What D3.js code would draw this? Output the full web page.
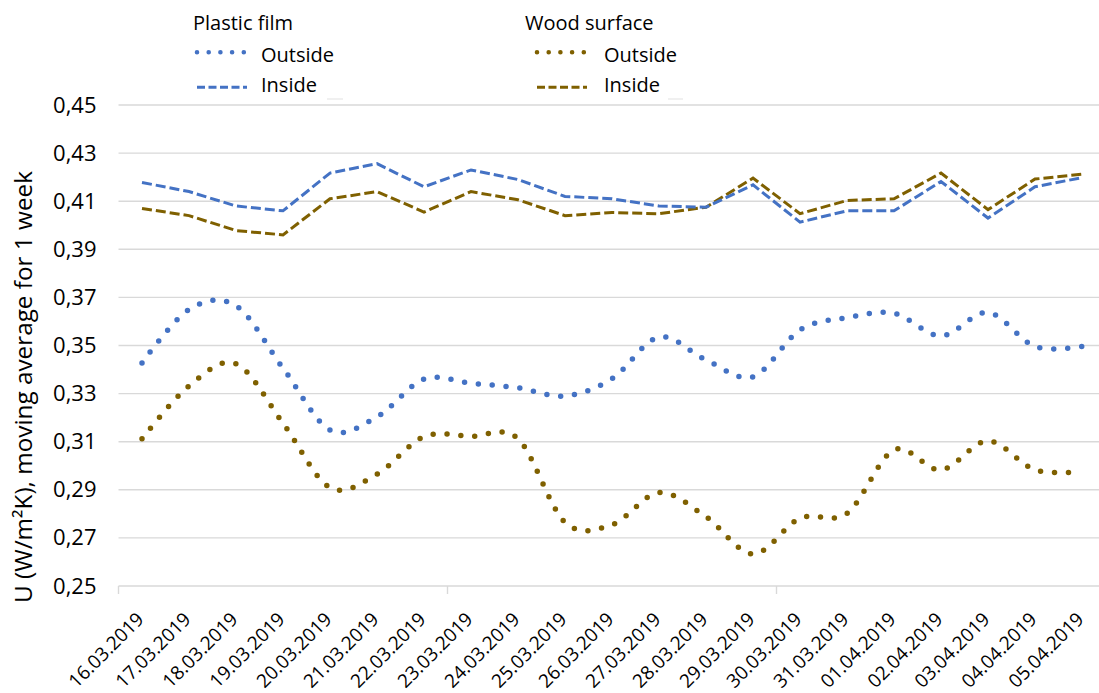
<!DOCTYPE html>
<html><head><meta charset="utf-8">
<script src="https://cdn.jsdelivr.net/npm/d3@7"></script>
<style>
body{margin:0;background:#fff}
svg{display:block}
text{font-family:'Open Sans',sans-serif;fill:#000}
</style>
</head><body>
<svg id="chart" width="1099" height="693"></svg>
<script>
const dates = ["16.03.2019","17.03.2019","18.03.2019","19.03.2019","20.03.2019","21.03.2019","22.03.2019",
  "23.03.2019","24.03.2019","25.03.2019","26.03.2019","27.03.2019","28.03.2019","29.03.2019",
  "30.03.2019","31.03.2019","01.04.2019","02.04.2019","03.04.2019","04.04.2019","05.04.2019"];
const plasticOutside = [0.3427,0.3650,0.3665,0.3406,0.3149,0.3203,0.3360,0.3343,0.3324,0.3290,0.3362,
  0.3535,0.3440,0.3370,0.3565,0.3616,0.3634,0.3540,0.3637,0.3496,0.3496];
const plasticInside = [0.4178,0.4140,0.4080,0.4060,0.4217,0.4256,0.4160,0.4230,0.4190,0.4120,0.4110,
  0.4080,0.4075,0.4168,0.4013,0.4060,0.4060,0.4182,0.4030,0.4160,0.4198];
const woodOutside = [0.3112,0.3332,0.3424,0.3177,0.2909,0.2965,0.3121,0.3122,0.3112,0.2765,0.2755,
  0.2888,0.2788,0.2633,0.2782,0.2802,0.3066,0.2983,0.3103,0.2983,0.2976];
const woodInside = [0.4070,0.4040,0.3978,0.3960,0.4110,0.4140,0.4055,0.4140,0.4106,0.4040,0.4053,
  0.4048,0.4075,0.4196,0.4048,0.4103,0.4110,0.4217,0.4065,0.4192,0.4212];
const yTickValues = [0.25,0.27,0.29,0.31,0.33,0.35,0.37,0.39,0.41,0.43,0.45];
const yTitle = "U (W/m²K), moving average for 1 week";
const legendGroups = ["Plastic film","Wood surface"];
const legendItems = ["Outside","Inside"];

const blue = "#4472C4", brown = "#7F6000", grid = "#d9d9d9";
const svg = d3.select("#chart");
const x = d3.scalePoint().domain(dates).range([142, 1082]);
const y = d3.scaleLinear().domain([0.25, 0.45]).range([586, 105]);
const step = x.step();
const left = x(dates[0]) - step/2, right = 1099;

// gridlines
svg.append("g").selectAll("line").data(yTickValues).join("line")
  .attr("x1", left).attr("x2", right)
  .attr("y1", d => y(d)).attr("y2", d => y(d))
  .attr("stroke", grid).attr("stroke-width", 1.4);

// x axis ticks (every 7 categories)
const tickIdx = [0,7,14,21];
svg.append("g").selectAll("line").data(tickIdx).join("line")
  .attr("x1", i => x(dates[0]) + step*(i-0.5)).attr("x2", i => x(dates[0]) + step*(i-0.5))
  .attr("y1", y(0.25)).attr("y2", y(0.25)+8)
  .attr("stroke", grid).attr("stroke-width", 1.4);

// y axis labels
const yAxis = d3.axisLeft(y).tickValues(yTickValues).tickSize(0).tickPadding(22)
  .tickFormat(d => d.toFixed(2).replace(".", ","));
const gy = svg.append("g").attr("transform", `translate(${left},0)`).call(yAxis);
gy.select(".domain").remove();
gy.selectAll("text").style("font-family","'Open Sans',sans-serif").style("font-size","22px").attr("fill","#000");

// x labels
svg.append("g").selectAll("text").data(dates).join("text")
  .attr("transform", d => `translate(${x(d)+3},620.5) rotate(-45)`)
  .attr("text-anchor","end").style("font-size","19px").text(d => d);

// y title
svg.append("text").attr("transform","translate(31.5,387) rotate(-90)")
  .attr("text-anchor","middle").style("font-size","24.3px").text(yTitle);

// lines
const straight = d3.line().x((d,i) => x(dates[i])).y(d => y(d));
const smooth = d3.line().x((d,i) => x(dates[i])).y(d => y(d)).curve(d3.curveCatmullRom.alpha(0));
function dotted(sel, color){ return sel.attr("fill","none").attr("stroke",color).attr("stroke-width",5.5)
  .attr("stroke-linecap","round").attr("stroke-dasharray","0 13.9"); }
function dashed(sel, color){ return sel.attr("fill","none").attr("stroke",color).attr("stroke-width",3)
  .attr("stroke-dasharray","10 4"); }
svg.append("path").attr("d", straight(woodInside)).call(dashed, brown);
svg.append("path").attr("d", straight(plasticInside)).call(dashed, blue);
svg.append("path").attr("d", smooth(woodOutside)).call(dotted, brown);
svg.append("path").attr("d", smooth(plasticOutside)).call(dotted, blue);

// legend
const lg = [{x:193, sx:197, tx:261, color:blue},{x:525, sx:537, tx:604, color:brown}];
lg.forEach((g, gi) => {
  svg.append("text").attr("x", g.x).attr("y", 30).style("font-size","20px").text(legendGroups[gi]);
  svg.append("line").attr("x1", g.sx).attr("x2", g.sx+50).attr("y1", 52.3).attr("y2", 52.3)
    .attr("stroke", g.color).attr("stroke-width", 4.6).attr("stroke-linecap","round").attr("stroke-dasharray","0 11.7");
  svg.append("line").attr("x1", g.sx).attr("x2", g.sx+50).attr("y1", 87.3).attr("y2", 87.3)
    .attr("stroke", g.color).attr("stroke-width", 3).attr("stroke-dasharray","8 3.5");
  svg.append("text").attr("x", g.tx).attr("y", 61.5).style("font-size","20px").text(legendItems[0]);
  svg.append("text").attr("x", g.tx).attr("y", 92.3).style("font-size","20px").text(legendItems[1]);
});
// small residual marks under legend
[[327,343],[668,683]].forEach(p => svg.append("line").attr("x1",p[0]).attr("x2",p[1]).attr("y1",99).attr("y2",99)
  .attr("stroke","#e6e6e6").attr("stroke-width",1.2));
</script>
</body></html>
